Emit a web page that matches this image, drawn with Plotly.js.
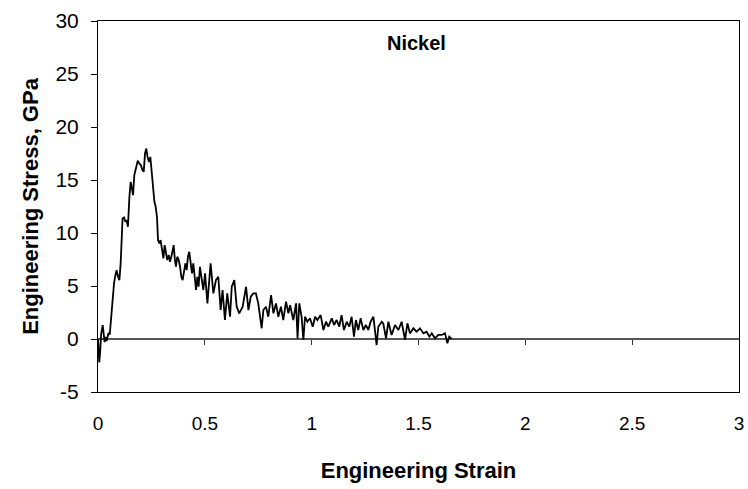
<!DOCTYPE html>
<html>
<head>
<meta charset="utf-8">
<script src="https://cdn.plot.ly/plotly-3.0.1.min.js"></script>
<style>html,body{margin:0;padding:0;background:#fff;}#chart{width:748px;height:489px;}</style>
</head>
<body>
<div id="chart"></div>
<script>
// Engineering strain (x) and engineering stress in GPa (y)
const strain = [
  0.000, 0.003, 0.006, 0.010, 0.015, 0.022, 0.027, 0.031, 0.036, 0.040, 0.046, 0.050, 0.055,
  0.059, 0.064, 0.069, 0.075, 0.080, 0.087, 0.094, 0.100, 0.106, 0.111, 0.115, 0.122, 0.128,
  0.134, 0.140, 0.147, 0.153, 0.159, 0.164, 0.170, 0.178, 0.186, 0.193, 0.201, 0.207, 0.214,
  0.220, 0.226, 0.232, 0.239, 0.245, 0.251, 0.257, 0.264, 0.270, 0.276, 0.281, 0.287, 0.293,
  0.300, 0.306, 0.312, 0.318, 0.324, 0.331, 0.337, 0.345, 0.354, 0.360, 0.365, 0.371, 0.378,
  0.384, 0.390, 0.396, 0.402, 0.409, 0.415, 0.421, 0.427, 0.434, 0.440, 0.446, 0.452, 0.459,
  0.465, 0.471, 0.477, 0.493, 0.501, 0.512, 0.527, 0.540, 0.552, 0.563, 0.574, 0.583, 0.594,
  0.605, 0.618, 0.626, 0.638, 0.649, 0.661, 0.677, 0.693, 0.704, 0.715, 0.727, 0.739, 0.750,
  0.766, 0.774, 0.786, 0.797, 0.810, 0.821, 0.833, 0.844, 0.856, 0.867, 0.880, 0.891, 0.899,
  0.914, 0.927, 0.934, 0.942, 0.953, 0.961, 0.969, 0.980, 0.992, 1.005, 1.016, 1.027, 1.042,
  1.055, 1.067, 1.078, 1.094, 1.105, 1.117, 1.129, 1.140, 1.151, 1.164, 1.176, 1.187, 1.198,
  1.207, 1.218, 1.229, 1.242, 1.254, 1.265, 1.276, 1.289, 1.296, 1.304, 1.312, 1.328, 1.335,
  1.348, 1.359, 1.374, 1.390, 1.406, 1.421, 1.437, 1.448, 1.460, 1.476, 1.491, 1.507, 1.523,
  1.538, 1.551, 1.562, 1.577, 1.593, 1.608, 1.624, 1.635, 1.644, 1.655
];
const stress = [
  0.00, -1.00, -2.20, -1.20, 0.50, 1.30, 0.50, -0.30, 0.20, -0.20, 0.30, 0.60, 0.40,
  1.48, 2.10, 3.36, 5.25, 5.87, 6.50, 5.87, 5.56, 7.13, 9.33, 11.37, 11.47, 11.06,
  11.20, 10.59, 13.41, 14.83, 14.20, 13.57, 15.46, 16.09, 16.81, 16.56, 16.40, 15.99, 15.77,
  17.50, 17.97, 17.18, 16.71, 17.18, 15.93, 14.51, 12.94, 12.47, 11.53, 9.33, 9.02, 9.33,
  8.54, 7.60, 8.86, 8.23, 7.45, 7.92, 7.29, 7.92, 8.86, 7.45, 6.82, 7.76, 7.45,
  6.82, 5.87, 5.56, 6.50, 7.13, 6.50, 7.76, 8.23, 7.13, 6.19, 7.13, 5.56, 4.62,
  5.87, 4.93, 6.81, 4.62, 6.19, 3.36, 7.13, 4.30, 5.56, 5.87, 2.73, 4.62, 1.79,
  4.30, 2.10, 4.93, 5.56, 3.05, 2.42, 3.05, 4.93, 2.73, 3.99, 4.30, 4.30, 3.36,
  1.01, 2.73, 3.05, 2.10, 4.15, 2.42, 3.36, 2.10, 3.05, 1.79, 3.52, 2.42, 3.20,
  1.79, 3.36, 0.06, 3.36, 2.10, -0.09, 2.10, 1.63, 1.95, 1.16, 2.10, 1.79, 2.26,
  0.85, 1.63, 1.16, 1.95, 1.32, 1.79, 1.16, 2.26, 0.85, 1.63, 1.16, 2.10, 0.22,
  1.79, 0.85, 1.95, 0.85, 1.32, 0.85, 1.63, 2.10, 0.85, -0.57, 1.16, 1.63, 1.48,
  0.06, 1.63, 0.38, 1.32, 0.85, 1.63, -0.09, 1.48, 0.53, 1.01, 0.69, 1.01, 0.53,
  0.69, 0.22, 0.53, 0.06, 0.38, 0.38, 0.53, -0.41, 0.22, 0.00
];
const xTicks = [0, 0.5, 1, 1.5, 2, 2.5, 3];
const xTickText = ['0', '0.5', '1', '1.5', '2', '2.5', '3'];
const yTicks = [-5, 0, 5, 10, 15, 20, 25, 30];
const yTickText = ['-5', '0', '5', '10', '15', '20', '25', '30'];
const zeroTicks = [0.5, 1, 1.5, 2, 2.5];

const FONT = 'Liberation Sans, Arial, sans-serif';

const data = [
  {
    x: strain, y: stress, type: 'scatter', mode: 'lines',
    line: {color: '#000', width: 1.8},
    xaxis: 'x', yaxis: 'y', showlegend: false, hoverinfo: 'skip'
  },
  {
    x: [0, 3], y: [0, 0], type: 'scatter', mode: 'lines',
    line: {color: 'rgba(0,0,0,0)', width: 0},
    xaxis: 'x2', yaxis: 'y', showlegend: false, hoverinfo: 'skip'
  }
];

const layout = {
  width: 748, height: 489,
  margin: {l: 98, r: 9, t: 21, b: 97},
  paper_bgcolor: '#fff', plot_bgcolor: '#fff',
  font: {family: FONT, color: '#000', size: 19},
  xaxis: {
    range: [0, 3], tickvals: xTicks, ticktext: xTickText,
    showgrid: false, zeroline: false,
    showline: true, linecolor: '#000', linewidth: 1, mirror: true,
    ticks: '', ticklabelstandoff: 14,
    tickfont: {family: FONT, size: 19, color: '#000'},
    title: {text: '<b>Engineering Strain</b>', font: {family: FONT, size: 22, color: '#000'}, standoff: 29}
  },
  xaxis2: {
    range: [0, 3], overlaying: 'x', anchor: 'free', position: 5/35,
    tickvals: zeroTicks, showticklabels: false,
    ticks: 'outside', ticklen: 5, tickwidth: 1, tickcolor: '#333',
    showgrid: false, zeroline: false, showline: false
  },
  yaxis: {
    range: [-5, 30], tickvals: yTicks, ticktext: yTickText,
    showgrid: false,
    zeroline: true, zerolinecolor: '#555', zerolinewidth: 1.5,
    showline: true, linecolor: '#000', linewidth: 1, mirror: true,
    ticks: 'outside', ticklen: 6, tickcolor: '#000', tickwidth: 1,
    ticklabelstandoff: 8,
    tickfont: {family: FONT, size: 21, color: '#000'},
    title: {text: '<b>Engineering Stress, GPa</b>', font: {family: FONT, size: 22, color: '#000'}, standoff: 10}
  },
  annotations: [
    {
      text: '<b>Nickel</b>', xref: 'x', yref: 'y', x: 1.49, y: 27.9,
      showarrow: false, font: {family: FONT, size: 20, color: '#000'}
    }
  ]
};

Plotly.newPlot('chart', data, layout, {displayModeBar: false, staticPlot: true});
</script>
</body>
</html>
